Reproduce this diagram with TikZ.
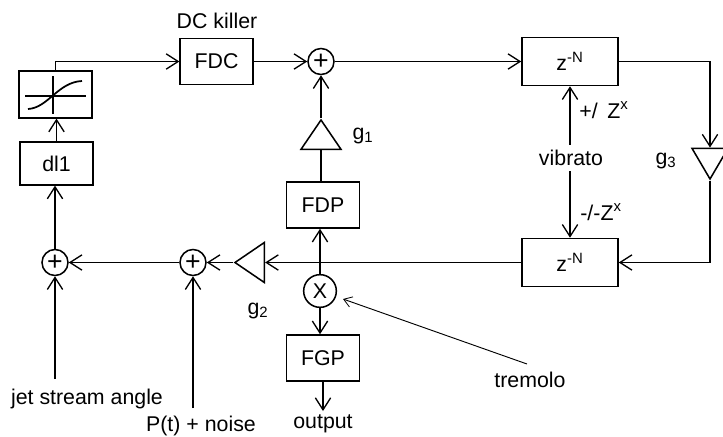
\documentclass[tikz,border=0pt]{standalone}
\usepackage{fontspec}
\setmainfont{Liberation Sans}
\usetikzlibrary{arrows.meta}
\usetikzlibrary{shapes.geometric}

\tikzset{
  >={Straight Barb[length=9pt,width=11.5pt,line width=1pt]},
  every node/.style={font=\fontsize{16pt}{19pt}\selectfont},
  blockbox/.style={draw, line width=1.15pt, minimum width=54.5pt, minimum height=34.5pt, inner sep=0pt},
  delaybox/.style={blockbox, minimum width=72pt, minimum height=36pt},
  sumnode/.style={draw, circle, line width=1.15pt, minimum size=19.5pt, inner sep=0pt, font=\fontsize{20pt}{20pt}\selectfont},
  gaintri/.style={draw, isosceles triangle, isosceles triangle stretches, line width=1.15pt, inner sep=0pt, minimum height=22pt, minimum width=30pt},
}

\begin{document}
\begin{tikzpicture}[x=0.75pt, y=-0.75pt, line width=1.1pt]
  \useasboundingbox (0,0) rectangle (723,436);
  \node[blockbox] (fdc) at (216.5,61.5) {FDC};
  \node at (217,21) (killer) {DC killer};
  \node[sumnode] (sumtop) at (321,61.5) {+};
  \node[delaybox] (ztop) at (570,61.5) {z\textsuperscript{-N}};
  \node[delaybox] (zbot) at (570,262.5) {z\textsuperscript{-N}};
  \node[blockbox, minimum height=32pt] (dl) at (56.5,163.5) {dl1};
  \node[blockbox, minimum height=35pt] (shaper) at (55.5,94.5) {};
  \node[blockbox] (fdp) at (323,205) {FDP};
  \node[blockbox] (fgp) at (323,358) {FGP};
  \node[sumnode] (sumleft) at (55,262.5) {+};
  \node[sumnode] (sumnoise) at (193,262.5) {+};
  \node[sumnode, minimum size=24.5pt, font=\fontsize{16pt}{19pt}\selectfont] (mult) at (320,291) {X};

  \node[gaintri, shape border rotate=90, anchor=apex] (gone) at (321,118) {};
  \node[gaintri, shape border rotate=180, anchor=apex] (gtwo) at (233,262.5) {};
  \node[gaintri, shape border rotate=270, anchor=apex, minimum width=27pt, minimum height=23pt] (gthree) at (710,181) {};

  \node (gonelabel) at (363,136) {g\textsubscript{1}};
  \node (gtwolabel) at (258,311) {g\textsubscript{2}};
  \node (gthreelabel) at (666,161) {g\textsubscript{3}};
  \node (vibrato) at (571,158) {vibrato};
  \node (plus) at (604,110) {+/\, Z\textsuperscript{x}};
  \node (minus) at (601,212) {-/-Z\textsuperscript{x}};
  \node (jet) at (87,399) {jet stream angle};
  \node (noise) at (201,426) {P(t) + noise};
  \node (output) at (323,424) {output};
  \node (tremolo) at (530,380) {tremolo};

  \coordinate (jetin) at (55,379);
  \coordinate (noisein) at (193,408);
  \coordinate (outend) at (323,411);
  \coordinate (tremoloin) at (527,364);
  \coordinate (tremoloend) at (343,299);

  % forward path
  \draw[->] (shaper.north) |- (fdc.west);
  \draw[->] (fdc.east) -- (sumtop.west);
  \draw[->] (sumtop.east) -- (ztop.west);
  \draw[->] (ztop.east) -| (gthree.lower side);
  \draw[->] (gthree.apex) |- (zbot.east);
  \draw[->] (zbot.west) -- (gtwo.lower side);
  \draw[->] (gtwo.apex) -- (sumnoise.east);
  \draw[->] (sumnoise.west) -- (sumleft.east);
  \draw[->] (sumleft.north) -- (dl.south -| sumleft.north);
  \draw[->] (dl.north) -- (shaper.south -| dl.north);
  % tap to the output
  \draw[->] (mult.north) -- (fdp.south -| mult.north);
  \draw (fdp.north -| gone.lower side) -- (gone.lower side);
  \draw[->] (gone.apex) -- (sumtop.south);
  \draw[->] (mult.south) -- (fgp.north -| mult.south);
  \draw[->] (fgp.south) -- (outend);
  % vibrato
  \draw[->] (ztop.south |- vibrato.north) -- (ztop.south);
  \draw[->] (zbot.north |- vibrato.south) -- (zbot.north);
  % inputs
  \draw[->] (jetin) -- (sumleft.south);
  \draw[->] (noisein) -- (sumnoise.south);
  \draw[->, >={Straight Barb[length=6pt,width=8pt,line width=0.6pt]}, line width=0.7pt] (tremoloin) -- (tremoloend);
  % saturation curve
  \draw[line width=0.9pt] (25,96) -- (86,96);
  \draw[line width=0.9pt] (53,76) -- (53,114);
  \draw[line width=1.3pt] (28,109) .. controls (48,108) and (58,82) .. (82,81);
\end{tikzpicture}
\end{document}
